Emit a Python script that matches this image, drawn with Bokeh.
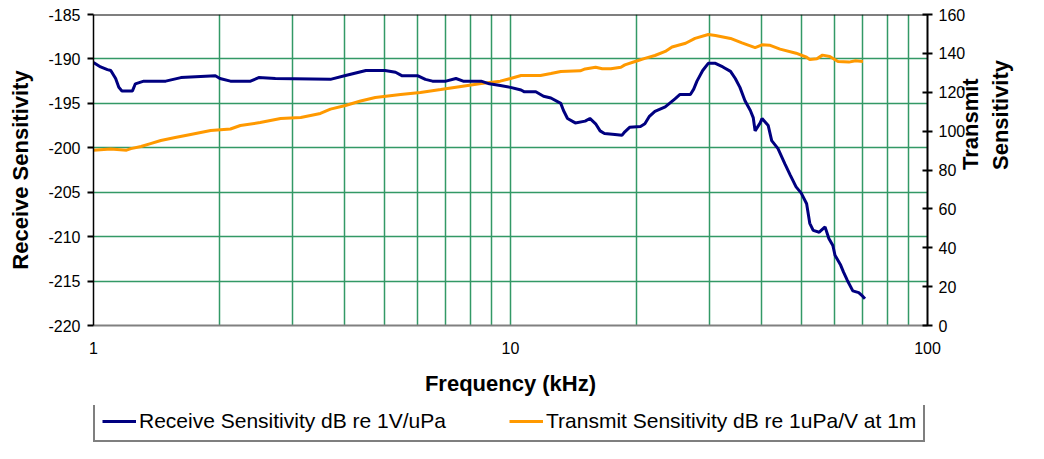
import math
from bokeh.plotting import figure
from bokeh.layouts import column
from bokeh.models import Range1d, LinearAxis, FixedTicker, Legend, LegendItem, Span
from bokeh.embed import file_html
from bokeh.resources import INLINE

# ---- data ----
rx_freq = [1.0, 1.04, 1.08, 1.10, 1.13, 1.15, 1.17, 1.24, 1.26, 1.32, 1.49, 1.62, 1.96, 2.01,
           2.13, 2.38, 2.49, 2.73, 3.7, 4.0, 4.5, 5.0, 5.3, 5.5, 6.0, 6.25, 6.5, 7.0, 7.4, 7.7,
           8.5, 8.9, 9.45, 10.0, 10.6, 10.8, 11.5, 12.0, 12.5, 13.2, 13.4, 13.7, 14.3, 15.1,
           15.5, 16.0, 16.4, 16.8, 17.8, 18.5, 18.8, 19.3, 20.5, 21.0, 21.5, 22.2, 23.5, 24.8,
           25.5, 27.0, 27.5, 28.0, 28.9, 29.8, 31.0, 32.3, 33.7, 34.6, 35.5, 36.5, 37.6, 38.2,
           38.6, 39.7, 40.1, 41.5, 42.3, 43.8, 45.5, 46.9, 48.4, 49.8, 51.3, 52.2, 53.2, 55.0,
           56.8, 58.0, 59.3, 60.0, 61.9, 62.9, 64.2, 66.2, 68.4, 69.9, 70.8]
rx_db = [-190.4, -190.9, -191.2, -191.3, -192.2, -193.2, -193.6, -193.6, -192.8, -192.5,
         -192.5, -192.1, -191.9, -192.2, -192.5, -192.5, -192.1, -192.2, -192.3, -191.9,
         -191.3, -191.3, -191.5, -191.9, -191.9, -192.3, -192.5, -192.5, -192.2, -192.5,
         -192.5, -192.8, -193.0, -193.2, -193.5, -193.7, -193.7, -194.2, -194.4, -195.0,
         -195.8, -196.7, -197.2, -197.0, -196.7, -197.3, -198.1, -198.4, -198.5, -198.6,
         -198.2, -197.7, -197.6, -197.3, -196.5, -195.9, -195.4, -194.5, -194.0, -194.0,
         -193.4, -192.5, -191.3, -190.5, -190.5, -190.9, -191.4, -192.2, -193.2, -194.7,
         -195.8, -196.6, -198.1, -197.2, -196.7, -197.5, -199.2, -200.1, -201.8, -203.1,
         -204.4, -205.1, -206.3, -208.5, -209.3, -209.5, -208.9, -210.2, -211.0, -212.1,
         -213.2, -214.0, -214.9, -216.1, -216.3, -216.7, -217.0]

tx_freq = [1.0, 1.1, 1.2, 1.23, 1.30, 1.37, 1.45, 1.57, 1.71, 1.91, 2.13, 2.25, 2.51, 2.81,
           3.14, 3.50, 3.7, 4.02, 4.37, 4.74, 5.45, 6.08, 6.80, 7.61, 8.5, 9.45, 10.0, 10.6,
           11.8, 12.5, 13.2, 14.7, 15.1, 16.0, 16.6, 17.4, 18.4, 18.8, 19.9, 21.0, 22.2, 23.5,
           24.4, 26.3, 27.7, 29.8, 31.0, 33.7, 35.9, 38.6, 40.1, 41.8, 44.3, 48.4, 51.3, 52.2,
           54.3, 56.0, 58.3, 61.0, 64.8, 67.2, 70.0]
tx_db = [90.2, 90.8, 90.2, 91.0, 92.1, 93.6, 95.2, 96.7, 98.3, 100.3, 101.1, 102.9, 104.4,
         106.5, 107.0, 109.1, 111.3, 113.2, 115.5, 117.3, 118.8, 119.9, 121.4, 123.0, 124.5,
         125.7, 127.1, 128.6, 128.6, 129.6, 130.7, 131.0, 132.0, 132.9, 132.1, 132.1, 132.9,
         134.1, 135.8, 137.4, 138.9, 141.0, 143.3, 145.2, 147.7, 149.7, 149.2, 147.7, 145.4,
         143.0, 144.4, 144.2, 142.2, 140.1, 138.0, 136.9, 137.2, 139.1, 138.4, 135.8, 135.5,
         136.2, 135.8]

x_major_ticks = [1, 10, 100]
x_minor_ticks = [2, 3, 4, 5, 6, 7, 8, 9, 20, 30, 40, 50, 60, 70, 80, 90]
left_ticks = [-220, -215, -210, -205, -200, -195, -190, -185]
right_ticks = [0, 20, 40, 60, 80, 100, 120, 140, 160]

rx_label = "Receive Sensitivity dB re 1V/uPa"
tx_label = "Transmit Sensitivity dB re 1uPa/V at 1m"
x_title = "Frequency (kHz)"
left_title = "Receive Sensitivity"
right_title_1 = "Transmit"
right_title_2 = "Sensitivity"

FONT = "Liberation Sans"
GRID = "#339966"
RX_COLOR = "#000080"
TX_COLOR = "#FF9900"

p = figure(width=1028, height=405, x_axis_type="log",
           x_range=Range1d(1, 100), y_range=Range1d(-220, -185),
           output_backend="svg", toolbar_location=None,
           min_border_left=93, min_border_right=101, min_border_top=14, min_border_bottom=80)
p.outline_line_color = None
p.background_fill_color = "white"
p.border_fill_color = "white"

p.extra_y_ranges = {"tx": Range1d(0, 160)}

# grids
p.xgrid.ticker = FixedTicker(ticks=x_major_ticks, minor_ticks=x_minor_ticks)
p.xgrid.grid_line_color = GRID
p.xgrid.minor_grid_line_color = GRID
p.xgrid.grid_line_width = 1.5
p.xgrid.minor_grid_line_width = 1.5
p.ygrid.ticker = FixedTicker(ticks=left_ticks)
p.ygrid.grid_line_color = GRID
p.ygrid.grid_line_width = 1.5

# x axis
xa = p.xaxis[0]
xa.ticker = FixedTicker(ticks=x_major_ticks, minor_ticks=x_minor_ticks)
xa.major_label_overrides = {v: str(v) for v in x_major_ticks}
xa.major_tick_out = 0
xa.major_tick_in = 0
xa.minor_tick_out = 0
xa.minor_tick_in = 0
xa.axis_line_color = "#808080"
xa.axis_line_width = 2
xa.major_label_text_font = FONT
xa.major_label_text_font_size = "16px"
xa.major_label_text_color = "black"
xa.major_label_standoff = 16
xa.axis_label = x_title
xa.axis_label_text_font = FONT
xa.axis_label_text_font_size = "22px"
xa.axis_label_text_font_style = "bold"
xa.axis_label_text_color = "black"
xa.axis_label_standoff = 14

# left axis
ya = p.yaxis[0]
ya.ticker = FixedTicker(ticks=left_ticks)
ya.major_label_overrides = {v: str(v) for v in left_ticks}
ya.major_tick_out = 6
ya.major_tick_in = 0
ya.minor_tick_out = 0
ya.minor_tick_in = 0
ya.axis_line_color = "black"
ya.axis_line_width = 1.5
ya.major_tick_line_width = 2
ya.major_label_text_font = FONT
ya.major_label_text_font_size = "16px"
ya.major_label_text_color = "black"
ya.major_label_standoff = 7
ya.axis_label = left_title
ya.axis_label_text_font = FONT
ya.axis_label_text_font_size = "22px"
ya.axis_label_text_font_style = "bold"
ya.axis_label_text_color = "black"
ya.axis_label_standoff = 12

# right axis (ticks + first title line)
ra = LinearAxis(y_range_name="tx", ticker=FixedTicker(ticks=right_ticks))
ra.major_tick_out = 5
ra.major_tick_in = 5
ra.minor_tick_out = 0
ra.minor_tick_in = 0
ra.axis_line_color = "black"
ra.axis_line_width = 2
ra.major_tick_line_width = 2
ra.major_label_text_font = FONT
ra.major_label_text_font_size = "16px"
ra.major_label_text_color = "black"
ra.major_label_standoff = 6
ra.axis_label = right_title_1
ra.axis_label_orientation = math.pi / 2
ra.axis_label_text_font = FONT
ra.axis_label_text_font_size = "22px"
ra.axis_label_text_font_style = "bold"
ra.axis_label_text_color = "black"
ra.axis_label_standoff = 2
p.add_layout(ra, "right")

# second line of the right title (invisible axis that only carries the label)
ra2 = LinearAxis(y_range_name="tx", ticker=FixedTicker(ticks=[]))
ra2.axis_line_color = None
ra2.major_tick_out = 0
ra2.major_tick_in = 0
ra2.minor_tick_out = 0
ra2.minor_tick_in = 0
ra2.major_label_standoff = 0
ra2.axis_label = right_title_2
ra2.axis_label_orientation = math.pi / 2
ra2.axis_label_text_font = FONT
ra2.axis_label_text_font_size = "22px"
ra2.axis_label_text_font_style = "bold"
ra2.axis_label_text_color = "black"
ra2.axis_label_standoff = 2
p.add_layout(ra2, "right")

# top frame line
p.add_layout(Span(location=-185, dimension="width", line_color="black", line_width=2))

# series
r_tx = p.line(tx_freq, tx_db, y_range_name="tx", line_color=TX_COLOR, line_width=3)
r_rx = p.line(rx_freq, rx_db, line_color=RX_COLOR, line_width=3)

# legend strip below the chart (its frame is aligned with the chart's frame)
lg = figure(width=1028, height=38, x_range=Range1d(0, 1), y_range=Range1d(0, 1),
            output_backend="svg", toolbar_location=None, min_border=0)
lg.axis.visible = False
lg.grid.visible = False
lg.outline_line_color = None
lg.background_fill_color = "white"
lg.border_fill_color = "white"
nan = float("nan")
l_rx = lg.line(x=[nan], y=[nan], line_color=RX_COLOR, line_width=3)
l_tx = lg.line(x=[nan], y=[nan], line_color=TX_COLOR, line_width=3)

legend = Legend(items=[LegendItem(label=rx_label, renderers=[l_rx]),
                       LegendItem(label=tx_label, renderers=[l_tx])],
                orientation="horizontal", location=(0, 1))
legend.label_text_font = FONT
legend.label_text_font_size = "21px"
legend.label_text_color = "black"
legend.glyph_width = 34
legend.glyph_height = 20
legend.label_height = 20
legend.label_standoff = 3
legend.spacing = 63
legend.padding = 7
legend.margin = 0
legend.border_line_color = "black"
legend.border_line_width = 2
legend.background_fill_color = "white"
lg.add_layout(legend)

layout = column(p, lg, spacing=0)
open("out.html", "w").write(file_html(layout, INLINE))
